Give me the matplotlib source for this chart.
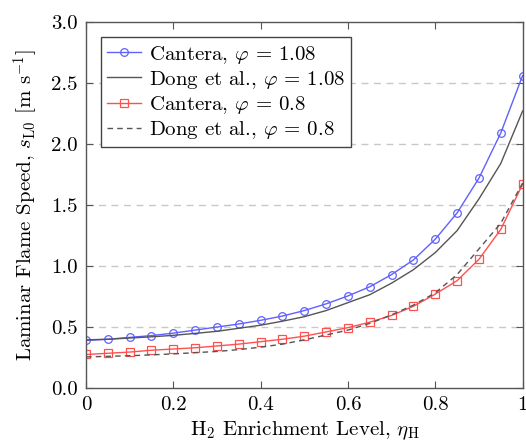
import numpy as np
import matplotlib
matplotlib.use("Agg")
import matplotlib.pyplot as plt

# ====== Dados ================================================================

eta_h = [0.00, 0.05, 0.10, 0.15, 0.20, 0.25, 0.30, 0.35, 0.40, 0.45, 0.50,
         0.55, 0.60, 0.65, 0.70, 0.75, 0.80, 0.85, 0.90, 0.95, 1.00]

cantera_108 = [0.39, 0.40, 0.415, 0.43, 0.45, 0.475, 0.50, 0.525, 0.555, 0.59, 0.635,
               0.69, 0.755, 0.83, 0.93, 1.05, 1.22, 1.435, 1.72, 2.09, 2.56]
dong_108 = [0.395, 0.40, 0.41, 0.42, 0.432, 0.448, 0.465, 0.49, 0.515, 0.548, 0.585,
            0.635, 0.70, 0.765, 0.86, 0.97, 1.11, 1.29, 1.55, 1.84, 2.27]
cantera_08 = [0.275, 0.285, 0.295, 0.31, 0.32, 0.33, 0.345, 0.36, 0.38, 0.40, 0.425,
              0.46, 0.495, 0.54, 0.595, 0.67, 0.77, 0.88, 1.055, 1.30, 1.67]
dong_08 = [0.255, 0.26, 0.265, 0.272, 0.28, 0.29, 0.30, 0.315, 0.335, 0.36, 0.395,
           0.435, 0.475, 0.53, 0.60, 0.68, 0.78, 0.93, 1.14, 1.35, 1.68]

x_ticks = [0, 0.2, 0.4, 0.6, 0.8, 1.0]
x_tick_labels = ["0", "0.2", "0.4", "0.6", "0.8", "1"]
y_ticks = [0.0, 0.5, 1.0, 1.5, 2.0, 2.5, 3.0]

# ====== Estilo ===============================================================

plt.rcParams["font.family"] = "serif"
plt.rcParams["font.serif"] = ["cmr10", "DejaVu Serif"]
plt.rcParams["mathtext.fontset"] = "cm"
plt.rcParams["axes.formatter.use_mathtext"] = True
plt.rcParams["font.size"] = 15

# ====== Figura ===============================================================

fig = plt.figure(figsize=(5.26, 4.44), dpi=100)
ax = fig.add_axes([0.1635, 0.126, 0.83, 0.8245])

for y in y_ticks[1:-1]:
    ax.axhline(y, color="#c8c8c8", linestyle=(0, (5, 4)), linewidth=1.0, zorder=0)

ax.plot(eta_h, cantera_108, color="#6060ff", linewidth=1.0, marker="o",
        markersize=5.5, markerfacecolor="none", markeredgewidth=0.9,
        label=r"Cantera, $\varphi$ = 1.08")
ax.plot(eta_h, dong_108, color="#555555", linewidth=1.0,
        label=r"Dong et al., $\varphi$ = 1.08")
ax.plot(eta_h, cantera_08, color="#ff5050", linewidth=1.0, marker="s",
        markersize=5.5, markerfacecolor="none", markeredgewidth=0.9,
        label=r"Cantera, $\varphi$ = 0.8")
ax.plot(eta_h, dong_08, color="#555555", linewidth=1.0, linestyle=(0, (4, 3)),
        label=r"Dong et al., $\varphi$ = 0.8")

ax.set_xlim(0, 1)
ax.set_ylim(0, 3)
ax.set_xticks(x_ticks)
ax.set_xticklabels(x_tick_labels)
ax.set_yticks(y_ticks)
ax.set_yticklabels([f"{v:.1f}" for v in y_ticks])
ax.tick_params(direction="in", top=True, right=True, length=5, width=0.8,
               color="#555555", pad=6)
for s in ax.spines.values():
    s.set_color("#555555")
    s.set_linewidth(1.0)

ax.set_xlabel(r"H$_2$ Enrichment Level, $\eta_{\mathrm{H}}$", labelpad=4)
ax.set_ylabel(r"Laminar Flame Speed, $s_{\mathrm{L0}}$ [m s$^{-1}$]", labelpad=8)

leg = ax.legend(loc="upper left", bbox_to_anchor=(0.02, 0.975), fancybox=False,
                framealpha=1, edgecolor="#444444", handlelength=1.6,
                handletextpad=0.4, borderpad=0.3, labelspacing=0.15,
                borderaxespad=0.3)
leg.get_frame().set_linewidth(1.0)

fig.savefig("out.png", dpi=100)
